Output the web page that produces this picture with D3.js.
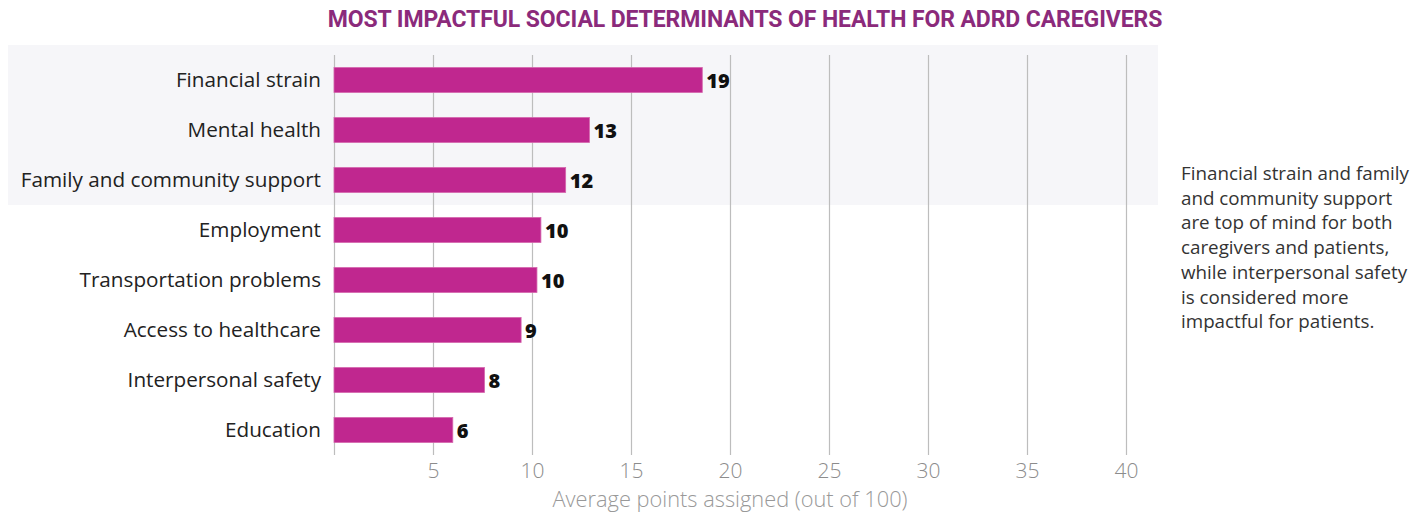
<!DOCTYPE html>
<html>
<head>
<meta charset="utf-8">
<script src="https://cdn.jsdelivr.net/npm/d3@7"></script>
<style>
  body { margin: 0; background: #fff; }
  svg { display: block; font-family: "Open Sans", Lato, sans-serif; }
</style>
</head>
<body>
<div id="chart"></div>
<script>
// chart data
const categories = ["Financial strain", "Mental health", "Family and community support", "Employment",
    "Transportation problems", "Access to healthcare", "Interpersonal safety", "Education"]
const values = [18.6, 12.9, 11.7, 10.45, 10.25, 9.45, 7.6, 6.0]
const valueLabels = ["19", "13", "12", "10", "10", "9", "8", "6"]
const xTicks = [5, 10, 15, 20, 25, 30, 35, 40]
const highlighted = ["Financial strain", "Mental health", "Family and community support"]
const noteLines = ["Financial strain and family", "and community support", "are top of mind for both",
    "caregivers and patients,", "while interpersonal safety", "is considered more", "impactful for patients."]

const W = 1416, H = 512

const svg = d3.select("#chart")
    .append("svg")
    .attr("width", W)
    .attr("height", H)

let x = d3.scaleLinear()
    .domain([0, 40])
    .range([334, 1126])

let y = d3.scaleBand()
    .domain(categories)
    .range([55, 455])
    .paddingInner(0.5)
    .paddingOuter(0.25)

// gray band behind the top three rows
svg.append("rect")
    .attr("x", 8)
    .attr("y", 45)
    .attr("width", 1150)
    .attr("height", y(highlighted[2]) + y.bandwidth() / 2 + y.step() / 2 - 45)
    .attr("fill", "#f6f6f9")

// title
svg.append("text")
    .attr("x", 745)
    .attr("y", 27)
    .attr("text-anchor", "middle")
    .attr("font-size", "23px")
    .attr("font-weight", "bold")
    .attr("fill", "#8b2a7b")
    .attr("font-family", "Roboto, Lato, sans-serif")
    .attr("letter-spacing", "-0.1px")
    .text("MOST IMPACTFUL SOCIAL DETERMINANTS OF HEALTH FOR ADRD CAREGIVERS")

// vertical grid
let gridAxis = svg.append("g")
    .attr("transform", "translate(0," + 455 + ")")
    .call(d3.axisBottom(x)
        .tickValues([0].concat(xTicks))
        .tickSize(-400)
        .tickFormat(function (d) { return d === 0 ? "" : d })
        .tickPadding(8)
    )
gridAxis.select(".domain").remove()
gridAxis.selectAll("line")
    .attr("stroke", "#bdbdbd")
    .attr("stroke-width", 1.2)
gridAxis.selectAll("text")
    .attr("font-size", "21px")
    .attr("font-family", "'Open Sans', sans-serif")
    .attr("font-weight", "300")
    .attr("fill", "#8c8c8c")

// bars
svg.selectAll(".bar")
    .data(categories)
    .enter().append("rect")
    .attr("class", "bar")
    .attr("x", x(0))
    .attr("y", function (d) { return y(d) })
    .attr("width", function (d, i) { return x(values[i]) - x(0) })
    .attr("height", y.bandwidth())
    .attr("fill", "#c0278f")
    .attr("stroke", "#d566ad")
    .attr("stroke-width", 0.8)

// category labels
svg.selectAll(".cat")
    .data(categories)
    .enter().append("text")
    .attr("class", "cat")
    .attr("x", 321)
    .attr("y", function (d) { return y(d) + y.bandwidth() / 2 })
    .attr("dy", "0.35em")
    .attr("text-anchor", "end")
    .attr("font-size", "20.7px")
    .attr("fill", "#222")
    .text(function (d) { return d })

// value labels
svg.selectAll(".val")
    .data(categories)
    .enter().append("text")
    .attr("class", "val")
    .attr("x", function (d, i) { return x(values[i]) + 4 })
    .attr("y", function (d) { return y(d) + y.bandwidth() / 2 })
    .attr("dy", "0.4em")
    .attr("font-size", "20px")
    .attr("font-weight", "800")
    .attr("fill", "#111")
    .text(function (d, i) { return valueLabels[i] })

// axis title
svg.append("text")
    .attr("x", (x(0) + x(40)) / 2)
    .attr("y", 507)
    .attr("text-anchor", "middle")
    .attr("font-size", "21.8px")
    .attr("font-weight", "300")
    .attr("fill", "#999")
    .text("Average points assigned (out of 100)")

// side note
svg.append("text")
    .attr("x", 1181)
    .attr("y", 180)
    .attr("font-size", "18.8px")
    .attr("fill", "#333")
    .selectAll("tspan")
    .data(noteLines)
    .enter().append("tspan")
    .attr("x", 1181)
    .attr("dy", function (d, i) { return i === 0 ? 0 : 24.7 })
    .text(function (d) { return d })
</script>
</body>
</html>
